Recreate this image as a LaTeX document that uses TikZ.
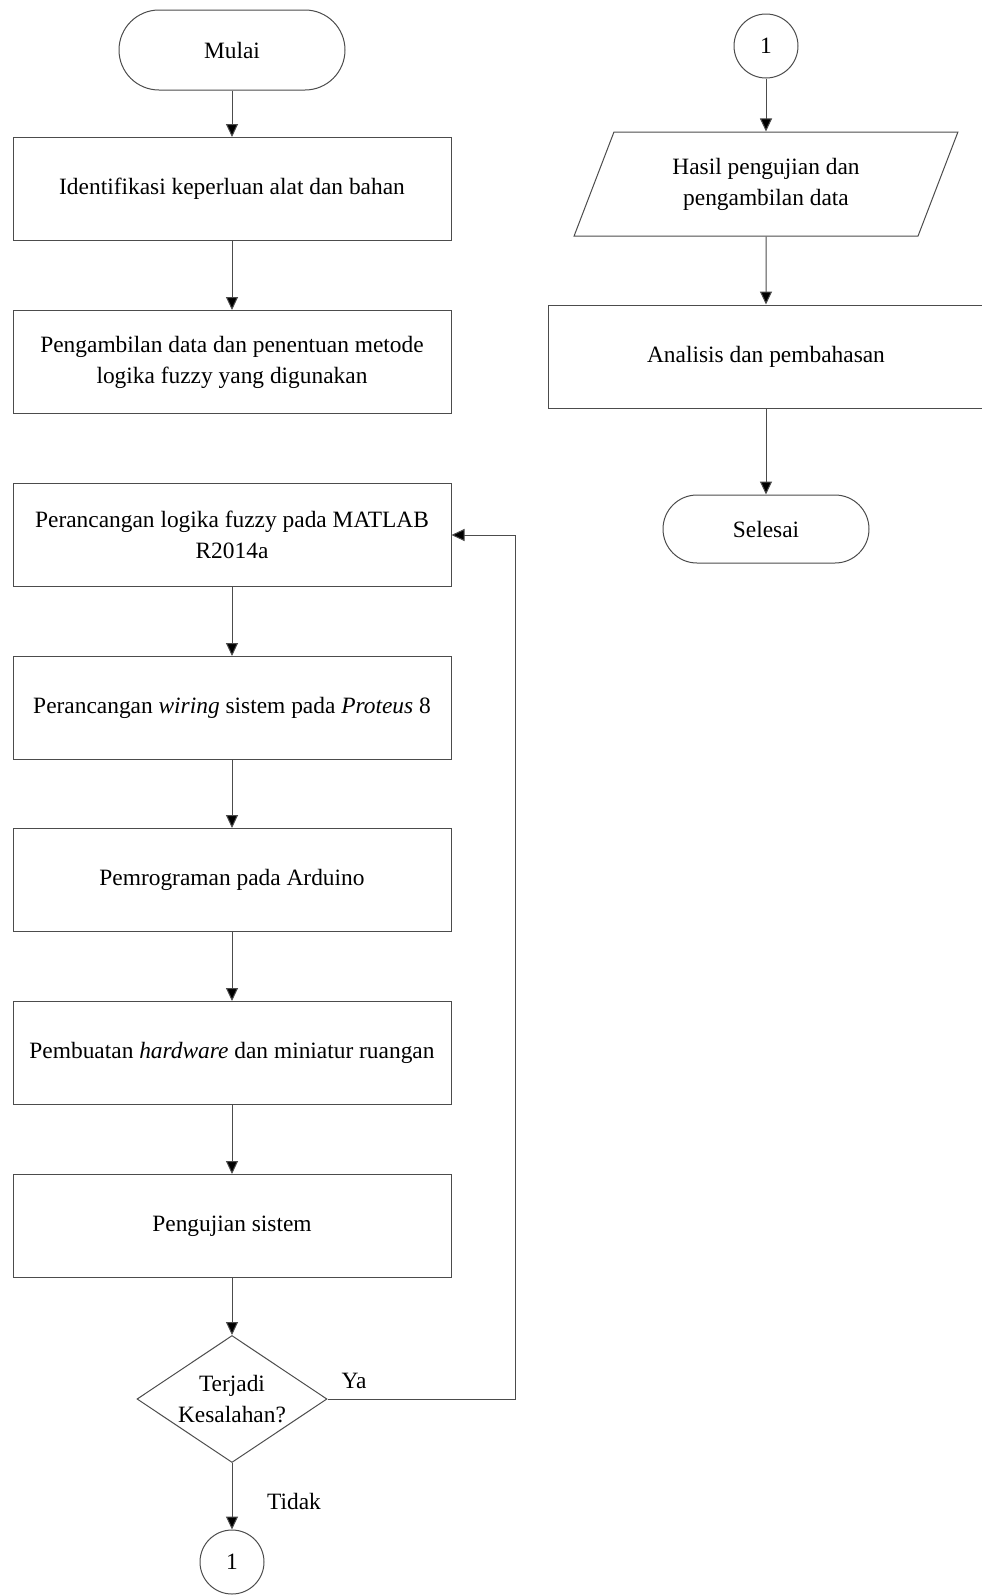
\documentclass[tikz,border=0pt]{standalone}
\usepackage{fontspec}
\setmainfont{Liberation Serif}
\usetikzlibrary{arrows.meta,shapes.geometric}

\definecolor{garis}{gray}{0.3}

\begin{document}
\begin{tikzpicture}[x=0.5pt,y=-0.5pt,font=\fontsize{11.7}{15.5}\selectfont,
  proses/.style={draw=garis,line width=0.5pt,minimum width=219pt,minimum height=51.5pt,align=center,inner sep=1pt},
  terminal/.style={draw=garis,line width=0.5pt,rounded corners=20pt,minimum width=113pt,minimum height=40pt},
  data/.style={draw=garis,line width=0.5pt,trapezium,trapezium left angle=66,trapezium right angle=114,
    trapezium stretches=true,minimum width=192pt,minimum height=52pt,align=center,inner sep=1pt},
  keputusan/.style={draw=garis,line width=0.5pt,diamond,aspect=1.5,inner sep=0pt,align=center,
    minimum width=95pt,minimum height=63.5pt},
  konektor/.style={draw=garis,line width=0.5pt,circle,minimum size=32pt,inner sep=0pt},
  panah/.style={draw=garis,line width=0.5pt,-{Triangle[length=6.5pt,width=6pt,fill=black]}}]
\useasboundingbox (0,0) rectangle (981,1596);
% kolom kiri
\node[terminal] (mulai) at (232,50) {Mulai};
\foreach \nama/\y/\isi in {
ident/189/{Identifikasi keperluan alat dan bahan},
ambil/362/{Pengambilan data dan penentuan metode\\logika fuzzy yang digunakan},
fuzzy/535/{Perancangan logika fuzzy pada MATLAB\\R2014a},
wiring/708/{Perancangan \textit{wiring} sistem pada \textit{Proteus} 8},
program/880/{Pemrograman pada Arduino},
hardware/1053/{Pembuatan \textit{hardware} dan miniatur ruangan},
uji/1226/{Pengujian sistem}}{
\node[proses] (\nama) at (232,\y) {\isi};}
\node[keputusan] (salah) at (232,1399) {Terjadi\\Kesalahan?};
\node[konektor] (sambung1) at (232,1562) {1};
\coordinate (balik) at (515,0);
% kolom kanan
\node[konektor] (sambung2) at (766,46) {1};
\node[data] (hasil) at (766,184) {Hasil pengujian dan\\pengambilan data};
\node[proses,minimum width=218pt] (analisis) at (766,356.5) {Analisis dan pembahasan};
\node[terminal,rounded corners=17pt,minimum width=103pt,minimum height=34pt] (selesai) at (766,529) {Selesai};
% panah
\foreach \a/\b in {mulai/ident,ident/ambil,fuzzy/wiring,wiring/program,program/hardware,
hardware/uji,uji/salah,salah/sambung1,sambung2/hasil,hasil/analisis,analisis/selesai}{
\draw[panah] (\a) -- (\b);}
\draw[panah] (salah.east) -- (salah.east -| balik) |- (fuzzy.east);
\node at (354,1381) {Ya};
\node at (294,1501) {Tidak};
\end{tikzpicture}
\end{document}
